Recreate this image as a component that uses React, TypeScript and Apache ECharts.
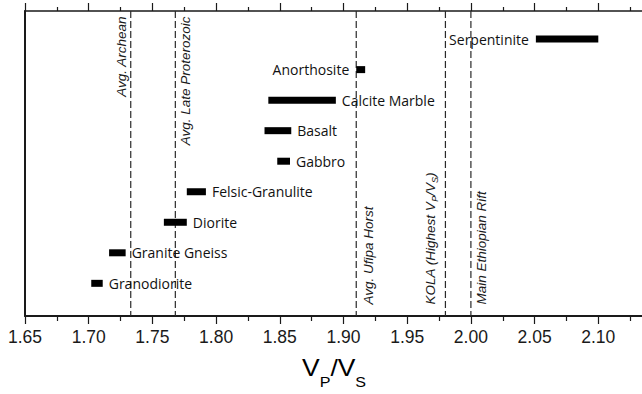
import React, { useEffect, useRef } from "react";
import * as echarts from "echarts";

// Rock types, listed from the bottom row upwards
const rocks = [
  "Granodiorite",
  "Granite Gneiss",
  "Diorite",
  "Felsic-Granulite",
  "Gabbro",
  "Basalt",
  "Calcite Marble",
  "Anorthosite",
  "Serpentinite",
];
// Vp/Vs range of each rock type
const vpvsLow = [1.702, 1.716, 1.759, 1.777, 1.848, 1.838, 1.841, 1.91, 2.051];
const vpvsHigh = [1.711, 1.729, 1.777, 1.792, 1.858, 1.859, 1.894, 1.917, 2.1];
// Which side of its bar each rock name sits on
const labelSide = ["right", "right", "right", "right", "right", "right", "right", "left", "left"];

// Reference Vp/Vs values drawn as dashed lines
const refNames = [
  "Avg. Archean",
  "Avg. Late Proterozoic",
  "Avg. Ufipa Horst",
  "{t|KOLA (Highest V}{s|P}{t|/V}{s|S}{t|)}",
  "Main Ethiopian Rift",
];
const refValues = [1.733, 1.768, 1.91, 1.98, 2.0];
const refSide = ["left", "right", "right", "left", "right"];
const refAnchor = ["top", "top", "bottom", "bottom", "bottom"];
const refGap = [2, 3, 5, 6, 4];

// Axis scale
const xMin = 1.65;
const xMax = 2.15;
const xStep = 0.05;

const INK = "#1a1a1a";
const SANS = '"Liberation Sans", Arial, Helvetica, sans-serif';

export default function App() {
  const ref = useRef<HTMLDivElement>(null);

  useEffect(() => {
    if (!ref.current) return;
    const chart = echarts.init(ref.current, null, { renderer: "svg" });

    const barData = rocks.map((_, i) => [i + 1, vpvsLow[i], vpvsHigh[i]]);
    const refData = refValues.map((v) => [v]);

    const tickFmt = (v: number) => v.toFixed(2);

    const baseX = {
      type: "value",
      min: xMin,
      max: xMax,
      interval: xStep,
      splitLine: { show: false },
    };

    const option: any = {
      animation: false,
      grid: { left: 25, top: 11, right: 18, bottom: 78 },
      xAxis: [
        {
          ...baseX,
          position: "bottom",
          axisLine: { show: true, onZero: false, lineStyle: { color: INK, width: 2 } },
          axisTick: { show: true, inside: false, length: 8, lineStyle: { color: INK, width: 1.2 } },
          minorTick: { show: true, splitNumber: 2, length: 5, lineStyle: { color: INK, width: 1.2 } },
          axisLabel: {
            show: true,
            margin: 12,
            showMaxLabel: false,
            formatter: tickFmt,
            color: INK,
            fontSize: 17.5,
            fontFamily: SANS,
          },
        },
        {
          ...baseX,
          position: "top",
          axisLine: { show: true, onZero: false, lineStyle: { color: INK, width: 1.5 } },
          axisTick: { show: true, inside: false, length: 8, lineStyle: { color: INK, width: 1.2 } },
          minorTick: { show: true, splitNumber: 2, length: 4, lineStyle: { color: INK, width: 1.2 } },
          axisLabel: { show: false },
        },
      ],
      yAxis: {
        type: "value",
        min: -0.07,
        max: 9.92,
        axisLine: { show: true, onZero: false, lineStyle: { color: INK, width: 2 } },
        axisTick: { show: false },
        axisLabel: { show: false },
        splitLine: { show: false },
      },
      graphic: [
        {
          type: "text",
          x: 302,
          y: 357,
          scaleX: 1.15,
          style: {
            text: "{v|V}{s|P}{v|/V}{s|S}",
            align: "left",
            verticalAlign: "top",
            fill: "#000",
            rich: {
              v: { fontSize: 23, fontFamily: SANS, fill: "#000", verticalAlign: "top" },
              s: {
                fontSize: 14,
                fontFamily: SANS,
                fill: "#000",
                verticalAlign: "top",
                padding: [18, 0, 0, 0],
              },
            },
          },
        },
      ],
      series: [
        {
          type: "custom",
          name: "refs",
          xAxisIndex: 0,
          yAxisIndex: 0,
          data: refData,
          encode: { x: 0 },
          renderItem: (params: any, api: any) => {
            const i = params.dataIndex;
            const x = api.coord([api.value(0), 0])[0];
            const cs = params.coordSys;
            const top = cs.y;
            const bottom = cs.y + cs.height;
            const left = refSide[i] === "left";
            const atTop = refAnchor[i] === "top";
            return {
              type: "group",
              children: [
                {
                  type: "line",
                  shape: { x1: x, y1: top, x2: x, y2: bottom },
                  style: { stroke: "#2a2a2a", lineWidth: 1.2, lineDash: [7, 3] },
                },
                {
                  type: "text",
                  x: left ? x - refGap[i] : x + refGap[i],
                  y: atTop ? top + 5.5 : bottom - 11.5,
                  rotation: Math.PI / 2,
                  style: {
                    text: refNames[i],
                    align: atTop ? "right" : "left",
                    verticalAlign: left ? "bottom" : "top",
                    font: `italic 13.5px ${SANS}`,
                    fill: INK,
                    rich: {
                      t: {
                        fontSize: 13.5,
                        fontStyle: "italic",
                        fontFamily: SANS,
                        fill: INK,
                        verticalAlign: "top",
                      },
                      s: {
                        fontSize: 9,
                        fontStyle: "italic",
                        fontFamily: SANS,
                        fill: INK,
                        verticalAlign: "top",
                        padding: [7, 0, 0, 0],
                      },
                    },
                  },
                },
              ],
            };
          },
        },
        {
          type: "custom",
          name: "rocks",
          xAxisIndex: 0,
          yAxisIndex: 0,
          data: barData,
          encode: { x: [1, 2], y: 0 },
          renderItem: (params: any, api: any) => {
            const i = params.dataIndex;
            const y = api.value(0);
            const p0 = api.coord([api.value(1), y]);
            const p1 = api.coord([api.value(2), y]);
            const h = 7;
            const left = labelSide[i] === "left";
            return {
              type: "group",
              children: [
                {
                  type: "rect",
                  shape: { x: p0[0], y: p0[1] - h / 2, width: p1[0] - p0[0], height: h },
                  style: { fill: "#000" },
                },
                {
                  type: "text",
                  x: left ? p0[0] - 7 : p1[0] + 6,
                  y: p0[1],
                  style: {
                    text: rocks[i],
                    align: left ? "right" : "left",
                    verticalAlign: "middle",
                    font: '14px "Open Sans", "Noto Sans", sans-serif',
                    fill: "#111",
                  },
                },
              ],
            };
          },
        },
      ],
    };

    chart.setOption(option);
    return () => chart.dispose();
  }, []);

  return (
    <div
      style={{
        position: "fixed",
        left: 0,
        top: 0,
        width: 642,
        height: 394,
        overflow: "hidden",
        background: "#fff",
      }}
    >
      <div ref={ref} style={{ width: 680, height: 394 }} />
    </div>
  );
}
